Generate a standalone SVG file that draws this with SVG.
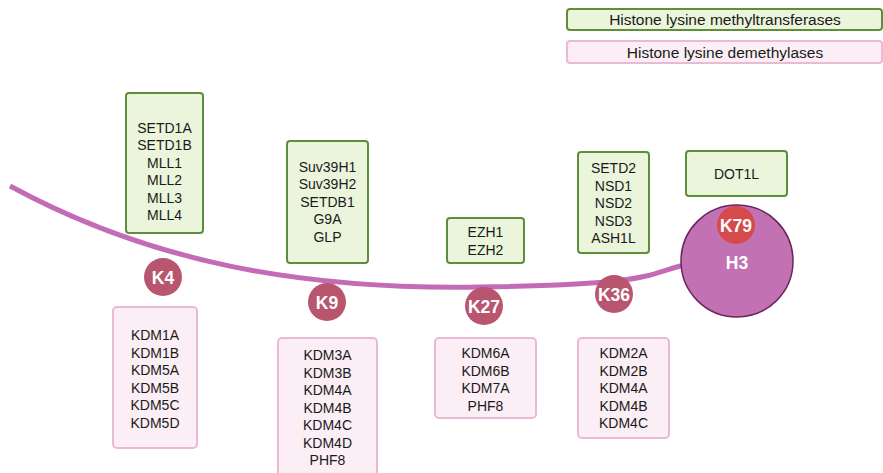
<svg xmlns="http://www.w3.org/2000/svg" width="883" height="473" viewBox="0 0 883 473">
<style>
.g{fill:#ebf5dc;stroke:#5f8e3b;stroke-width:2}
.p{fill:#fbeef5;stroke:#eab9d5;stroke-width:2}
.t{font-family:"Liberation Sans",Arial,sans-serif;font-size:14px;fill:#1a1a1a;text-anchor:middle;dominant-baseline:central}
.lt{font-family:"Liberation Sans",Arial,sans-serif;font-size:15.5px;fill:#1a1a1a;text-anchor:middle;dominant-baseline:central}
.k{fill:#b9566f}
.kt{font-family:"Liberation Sans",Arial,sans-serif;font-size:17.5px;font-weight:bold;fill:#ffffff;text-anchor:middle;dominant-baseline:central}
</style>
<rect width="883" height="473" fill="#ffffff"/>
<g id="legend">
<rect class="g" x="567" y="9" width="315" height="21" rx="3"/>
<text class="lt" x="725" y="19.5">Histone lysine methyltransferases</text>
<rect class="p" x="567" y="41" width="315" height="22" rx="3"/>
<text class="lt" x="725" y="52">Histone lysine demethylases</text>
</g>
<g id="connectors">
<path d="M10,186 C150,262 300,290 480,287 S640,275 692,263" fill="none" stroke="#c36bb6" stroke-width="5"/>
</g>
<g id="H3">
<circle cx="737" cy="261" r="56" fill="#c272b3" stroke="#6b2460" stroke-width="1.5"/>
<text class="kt" x="737" y="263">H3</text>
</g>
<g id="K79">
<circle cx="736" cy="225" r="19" fill="#d64a4c"/>
<text class="kt" x="736" y="226">K79</text>
</g>
<g id="K4">
<circle class="k" cx="163" cy="277" r="19"/>
<text class="kt" x="163" y="278">K4</text>
</g>
<g id="K9">
<circle class="k" cx="327" cy="302" r="19"/>
<text class="kt" x="327" y="303">K9</text>
</g>
<g id="K27">
<circle class="k" cx="484" cy="306" r="19"/>
<text class="kt" x="484" y="307">K27</text>
</g>
<g id="K36">
<circle class="k" cx="614" cy="294" r="19"/>
<text class="kt" x="614" y="295">K36</text>
</g>
<g id="K4-HMT">
<rect class="g" x="126" y="93" width="77" height="140" rx="3"/>
<text class="t" x="164.5" y="127.5">SETD1A</text>
<text class="t" x="164.5" y="145">SETD1B</text>
<text class="t" x="164.5" y="162.5">MLL1</text>
<text class="t" x="164.5" y="180">MLL2</text>
<text class="t" x="164.5" y="197.5">MLL3</text>
<text class="t" x="164.5" y="215">MLL4</text>
</g>
<g id="K9-HMT">
<rect class="g" x="287" y="141" width="81" height="122" rx="3"/>
<text class="t" x="327.5" y="166.5">Suv39H1</text>
<text class="t" x="327.5" y="184">Suv39H2</text>
<text class="t" x="327.5" y="201.5">SETDB1</text>
<text class="t" x="327.5" y="219">G9A</text>
<text class="t" x="327.5" y="236.5">GLP</text>
</g>
<g id="K27-HMT">
<rect class="g" x="447" y="218" width="77" height="45" rx="3"/>
<text class="t" x="485.5" y="232">EZH1</text>
<text class="t" x="485.5" y="249.5">EZH2</text>
</g>
<g id="K36-HMT">
<rect class="g" x="578" y="152" width="71" height="101" rx="3"/>
<text class="t" x="613.5" y="168">SETD2</text>
<text class="t" x="613.5" y="185.5">NSD1</text>
<text class="t" x="613.5" y="203">NSD2</text>
<text class="t" x="613.5" y="220.5">NSD3</text>
<text class="t" x="613.5" y="238">ASH1L</text>
</g>
<g id="K79-HMT">
<rect class="g" x="686" y="151" width="101" height="45" rx="3"/>
<text class="t" x="736.5" y="173.5">DOT1L</text>
</g>
<g id="K4-KDM">
<rect class="p" x="113" y="307" width="84" height="141" rx="4"/>
<text class="t" x="155" y="335">KDM1A</text>
<text class="t" x="155" y="352.5">KDM1B</text>
<text class="t" x="155" y="370">KDM5A</text>
<text class="t" x="155" y="387.5">KDM5B</text>
<text class="t" x="155" y="405">KDM5C</text>
<text class="t" x="155" y="422.5">KDM5D</text>
</g>
<g id="K9-KDM">
<rect class="p" x="278" y="338" width="99" height="145" rx="4"/>
<text class="t" x="327.5" y="355">KDM3A</text>
<text class="t" x="327.5" y="372.5">KDM3B</text>
<text class="t" x="327.5" y="390">KDM4A</text>
<text class="t" x="327.5" y="407.5">KDM4B</text>
<text class="t" x="327.5" y="425">KDM4C</text>
<text class="t" x="327.5" y="442.5">KDM4D</text>
<text class="t" x="327.5" y="460">PHF8</text>
</g>
<g id="K27-KDM">
<rect class="p" x="435" y="338" width="101" height="80" rx="4"/>
<text class="t" x="485.5" y="353">KDM6A</text>
<text class="t" x="485.5" y="370.5">KDM6B</text>
<text class="t" x="485.5" y="388">KDM7A</text>
<text class="t" x="485.5" y="405.5">PHF8</text>
</g>
<g id="K36-KDM">
<rect class="p" x="578" y="338" width="91" height="100" rx="4"/>
<text class="t" x="623.5" y="353">KDM2A</text>
<text class="t" x="623.5" y="370.5">KDM2B</text>
<text class="t" x="623.5" y="388">KDM4A</text>
<text class="t" x="623.5" y="405.5">KDM4B</text>
<text class="t" x="623.5" y="423">KDM4C</text>
</g>
</svg>
